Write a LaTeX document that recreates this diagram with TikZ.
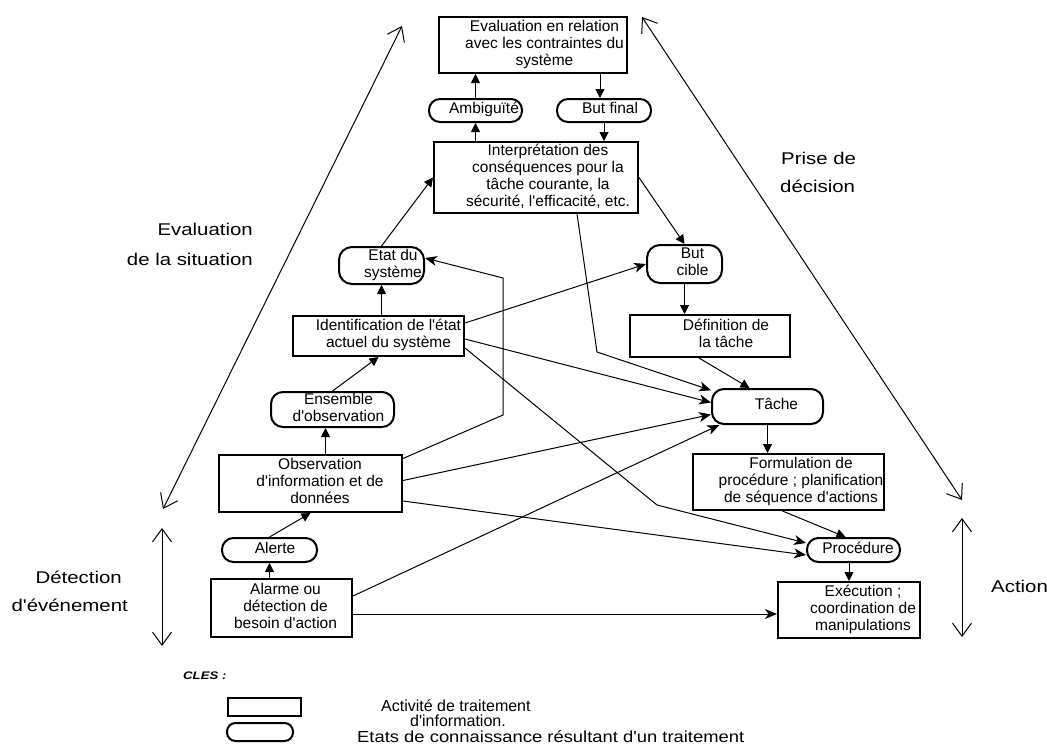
\documentclass[tikz,border=0pt]{standalone}
\usepackage{fontspec}
\setmainfont{Liberation Sans}[Ligatures=TeXOff]
\newfontfamily\widefont{Liberation Sans}[FakeStretch=1.2, Ligatures=TeXOff]
\newfontfamily\etatsfont{Liberation Sans}[FakeStretch=1.15, Ligatures=TeXOff]
\usetikzlibrary{arrows.meta}

% centred multi-line text, moved right by half of #1 (pt) without widening the box
\newcommand{\txt}[2]{\makebox[0pt]{\hspace*{#1pt}\begin{tabular}{@{}c@{}}#2\end{tabular}}}

\begin{document}
\begin{tikzpicture}[x=1pt, y=-1pt,
  actbox/.style={draw, line width=2pt, rectangle, inner sep=0pt,
    font=\fontsize{15.5}{17}\selectfont},
  statebox/.style={actbox},
  tri/.style={-{Triangle[length=9pt,width=9pt]}, line width=1pt},
  stl/.style={-{Stealth[length=12pt,width=10pt,inset=3.5pt]}, line width=1pt},
  barb/.style={{Straight Barb[length=13pt,width=19pt]}-{Straight Barb[length=13pt,width=19pt]}, line width=1pt},
  biglabel/.style={inner sep=0pt, font=\widefont\fontsize{17}{20}\selectfont},
  keytext/.style={inner sep=0pt, font=\fontsize{16}{18}\selectfont}
]
\useasboundingbox (0,0) rectangle (1047,745);

% ---- processing activities (rectangles) ----
\node[actbox, minimum width=188pt, minimum height=56pt] (eval) at (533,45)
  {\txt{23}{Evaluation en relation\\avec les contraintes du\\système}};
\node[actbox, minimum width=204pt, minimum height=71pt] (interp) at (536,177.5)
  {\txt{24}{Interprétation des\\conséquences pour la\\tâche courante, la\\sécurité, l'efficacité, etc.}};
\node[actbox, minimum width=171pt, minimum height=40pt] (ident) at (378.5,336)
  {\txt{20}{Identification de l'état\\actuel du système}};
\node[actbox, minimum width=183pt, minimum height=57pt] (obs) at (310.5,483.5)
  {\txt{19}{Observation\\d'information et de\\données}};
\node[actbox, minimum width=141pt, minimum height=58pt] (alarme) at (281.5,608)
  {\txt{8}{Alarme ou\\détection de\\besoin d'action}};
\node[actbox, minimum width=160pt, minimum height=42pt] (def) at (710,336)
  {\txt{32}{Définition de\\la tâche}};
\node[actbox, minimum width=191pt, minimum height=56pt] (form) at (788.5,482)
  {\txt{25}{Formulation de\\procédure ; planification\\de séquence d'actions}};
\node[actbox, minimum width=142pt, minimum height=56pt] (exec) at (849,610)
  {\txt{28}{Exécution ;\\coordination de\\manipulations}};

% ---- states of knowledge (rounded) ----
\node[statebox, rounded corners=11pt, minimum width=93pt, minimum height=23pt] (amb) at (475.5,110.5)
  {\txt{17}{Ambiguïté}};
\node[statebox, rounded corners=11pt, minimum width=94pt, minimum height=23pt] (bfin) at (604,110.5)
  {\txt{12}{But final}};
\node[statebox, rounded corners=13pt, minimum width=85pt, minimum height=37pt] (etat) at (381.5,265.5)
  {\txt{23}{Etat du\\système}};
\node[statebox, rounded corners=12pt, minimum width=123pt, minimum height=35pt] (ens) at (332.5,409.5)
  {\txt{12}{Ensemble\\d'observation}};
\node[statebox, rounded corners=11.5pt, minimum width=95pt, minimum height=24pt] (alerte) at (269.5,550)
  {\txt{11}{Alerte}};
\node[statebox, rounded corners=13pt, minimum width=75pt, minimum height=38pt] (bcible) at (684.5,264)
  {\txt{16}{But\\cible}};
\node[statebox, rounded corners=12pt, minimum width=111pt, minimum height=35pt] (tache) at (767.5,406.5)
  {\txt{18}{Tâche}};
\node[statebox, rounded corners=11.5pt, minimum width=93pt, minimum height=24pt] (proc) at (853.5,550)
  {\txt{9}{Procédure}};

% ---- bend points of the long connectors ----
\coordinate (k1) at (503,415);
\coordinate (k2) at (503,278);
\coordinate (k3) at (657,505);
\coordinate (k4) at (597,352);
\coordinate (a1) at ([yshift=-6pt]alarme.east);
\coordinate (bf) at ([xshift=-4pt]bfin.north);

% ---- vertical flow ----
\draw[tri] (amb.north) -- (amb.north |- eval.south);
\draw[tri] (interp.north -| amb) -- (amb.south);
\draw[tri] (bf |- eval.south) -- (bf);
\draw[tri] (bfin.south) -- (bfin.south |- interp.north);
\draw[tri] (etat.north) -- (interp.west);
\draw[tri] (ident.north -| etat) -- (etat.south);
\draw[tri] (ens.north) -- (ident.south);
\draw[tri] ([xshift=-7pt]obs.north -| ens) -- ([xshift=-7pt]ens.south);
\draw[tri] (alerte.north) -- (obs.south);
\draw[tri] (alarme.north -| alerte) -- (alerte.south);
\draw[tri] (interp.east) -- (bcible.north);
\draw[tri] (bcible.south) -- (bcible.south |- def.north);
\draw[tri] ([xshift=-11pt]def.south) -- ([xshift=-18pt]tache.north);
\draw[tri] (tache.south) -- (tache.south |- form.north);
\draw[tri] ([xshift=-6pt]form.south) -- ([xshift=-8pt]proc.north);
\draw[tri] (exec.north |- proc.south) -- (exec.north);

% ---- short-cuts ----
\draw[stl] ([yshift=13pt]ident.east) -- (bcible.west);
\draw[stl] ([yshift=-3pt]ident.east) -- ([yshift=4pt]tache.west);
\draw[stl] ([yshift=3pt]obs.east) -- ([yshift=-8pt]tache.west);
\draw[stl] ([yshift=12pt]alarme.east) -- (tache.201);
\draw[stl] ([yshift=25pt]obs.east) -- (k1) -- (k2) -- ([yshift=7.5pt]etat.east);
\draw[stl] ([yshift=-12pt]ident.east) -- (k3) -- ([yshift=7pt]proc.west);
\draw[stl] ([yshift=-17.5pt]obs.east) -- ([yshift=-5pt]proc.west);
\draw[stl] ([xshift=41pt]interp.south) -- (k4) -- (tache.164);
\draw[stl] (a1) -- (a1 -| exec.west);

% ---- phase brackets ----
\coordinate (evLo) at (163,509);
\coordinate (evHi) at (402,26);
\coordinate (pdHi) at (642,17);
\coordinate (pdLo) at (962,500);
\coordinate (deHi) at (162,528);
\coordinate (deLo) at (162,646);
\coordinate (acHi) at (962,518);
\coordinate (acLo) at (962,637);
\draw[barb] (evLo) -- (evHi);
\draw[barb] (pdHi) -- (pdLo);
\draw[barb] (deHi) -- (deLo);
\draw[barb] (acHi) -- (acLo);

\node[biglabel, anchor=base east] (lev1) at (253,235) {Evaluation};
\node[biglabel, anchor=base east] (lev2) at (253,265) {de la situation};
\node[biglabel, anchor=base west] (lpd1) at (781,164) {Prise de};
\node[biglabel, anchor=base west] (lpd2) at (780,192) {décision};
\node[biglabel, anchor=base east] (lde1) at (122,583) {Détection};
\node[biglabel, anchor=base east] (lde2) at (128,611) {d'événement};
\node[biglabel, anchor=base west] (lac) at (991,592) {Action};

% ---- key ----
\node[inner sep=0pt, anchor=base west, font=\widefont\bfseries\itshape\fontsize{11}{13}\selectfont] (cles) at (183,679) {CLES :};
\node[actbox, minimum width=73pt, minimum height=18pt] (keyact) at (264.5,707) {};
\node[statebox, rounded corners=8.5pt, minimum width=66pt, minimum height=18pt] (keystate) at (260,732) {};
\node[keytext, anchor=base west] (kt1) at (381,711.5) {Activité de traitement};
\node[keytext, anchor=base west] (kt2) at (410,726.5) {d'information.};
\node[keytext, anchor=base west, font=\etatsfont\fontsize{16}{18}\selectfont] (kt3) at (357,742.5) {Etats de connaissance résultant d'un traitement};
\end{tikzpicture}
\end{document}
